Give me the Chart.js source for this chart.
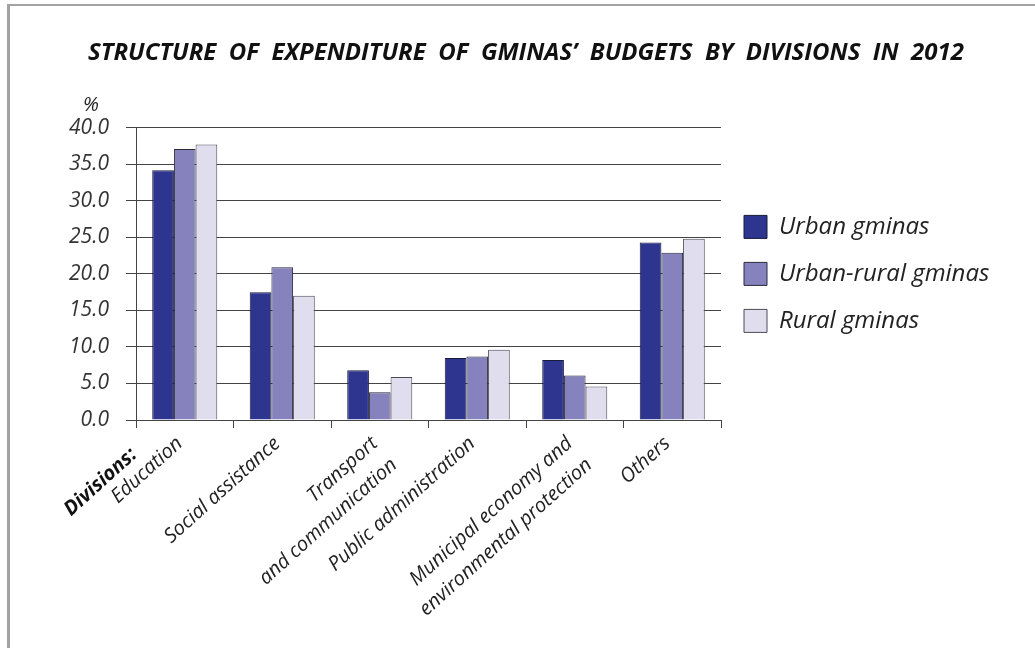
<!DOCTYPE html>
<html>
<head>
<meta charset="utf-8">
<script src="https://cdn.jsdelivr.net/npm/chart.js@4.4.1/dist/chart.umd.min.js"></script>
<style>
  html, body { margin: 0; padding: 0; background: #fff; }
  #frame {
    position: absolute; left: 7px; top: 4px; width: 1100px; height: 700px;
    border-top: 2px solid #a3a3a3; border-left: 3px solid #a3a3a3;
  }
  #wrap { position: absolute; left: 0; top: 0; width: 1035px; height: 648px; }
</style>
</head>
<body>
<div id="frame"></div>
<div id="wrap"><canvas id="chart"></canvas></div>
<script>
// Data
const categories = [
  "Education",
  "Social assistance",
  ["Transport", "and communication"],
  "Public administration",
  ["Municipal economy and", "environmental protection"],
  "Others",
];
const urban = [34.2, 17.5, 6.8, 8.5, 8.2, 24.3];
const urbanRural = [37.1, 20.9, 3.8, 8.7, 6.1, 22.9];
const rural = [37.7, 17.0, 5.9, 9.6, 4.6, 24.8];
const seriesNames = ["Urban gminas", "Urban-rural gminas", "Rural gminas"];

const font = "'Open Sans', 'DejaVu Sans', sans-serif";
const legendWidth = 314;
const labelAngle = 42;

// Legend: keep a fixed width so the text is not clipped
const legendFit = {
  id: "legendFit",
  afterInit(chart) {
    const lg = chart.legend;
    const orig = lg.fit;
    lg.fit = function () {
      orig.call(this);
      this.width = legendWidth;
    };
  },
};

// Extra texts: "%" and "Divisions:"
const extraText = {
  id: "extraText",
  afterDraw(chart) {
    const { ctx, chartArea } = chart;
    ctx.save();
    ctx.fillStyle = "#222";
    ctx.font = "italic 20px " + font;
    ctx.textAlign = "center";
    ctx.textBaseline = "middle";
    ctx.fillText("%", 91, 105);

    ctx.translate(chartArea.left - 2, chartArea.bottom + 32);
    ctx.rotate((-labelAngle * Math.PI) / 180);
    ctx.font = "italic bold 20px " + font;
    ctx.fillStyle = "#111";
    ctx.textAlign = "right";
    ctx.fillText("Divisions:", 0, 0);
    ctx.restore();
  },
};

const ctx = document.getElementById("chart").getContext("2d");
new Chart(ctx, {
  type: "bar",
  data: {
    labels: categories,
    datasets: [
      { label: seriesNames[0], data: urban, backgroundColor: "#2e358f", borderColor: "#1a1a3a", borderWidth: 1 },
      { label: seriesNames[1], data: urbanRural, backgroundColor: "#8682bd", borderColor: "#2a2a3a", borderWidth: 1 },
      { label: seriesNames[2], data: rural, backgroundColor: "#e0ddef", borderColor: "#4a4a55", borderWidth: 1 },
    ],
  },
  options: {
    responsive: true,
    maintainAspectRatio: false,
    animation: false,
    categoryPercentage: 0.667,
    barPercentage: 1.0,
    layout: { padding: { left: 17, right: 0, top: 0, bottom: 10 } },
    plugins: {
      title: {
        display: true,
        text: "STRUCTURE  OF  EXPENDITURE  OF  GMINAS’  BUDGETS  BY  DIVISIONS  IN  2012",
        color: "#111",
        font: { family: font, size: 24, style: "italic", weight: "bold" },
        padding: { top: 39, bottom: 60 },
      },
      legend: {
        position: "right",
        fullSize: false,
        labels: {
          boxWidth: 23,
          boxHeight: 23,
          padding: 23,
          color: "#222",
          font: { family: font, size: 24, style: "italic" },
        },
      },
      tooltip: { enabled: false },
    },
    scales: {
      x: {
        grid: { drawOnChartArea: false, tickLength: 8, color: "#444" },
        border: { color: "#444", width: 1 },
        ticks: {
          autoSkip: false,
          maxRotation: labelAngle,
          minRotation: labelAngle,
          padding: 2,
          labelOffset: -5,
          color: "#222",
          font: { family: font, size: 20, style: "italic", lineHeight: 1.45 },
        },
        afterFit: (scale) => { scale.height = 218; },
      },
      y: {
        min: 0,
        max: 40,
        grid: { tickLength: 10, color: "#444", lineWidth: 1 },
        border: { color: "#444", width: 1 },
        ticks: {
          stepSize: 5,
          padding: 17,
          color: "#333",
          font: { family: font, size: 21, style: "italic" },
          callback: (v) => v.toFixed(1),
        },
        afterFit: (scale) => { scale.width = 119; },
      },
    },
  },
  plugins: [legendFit, extraText],
});
</script>
</body>
</html>
